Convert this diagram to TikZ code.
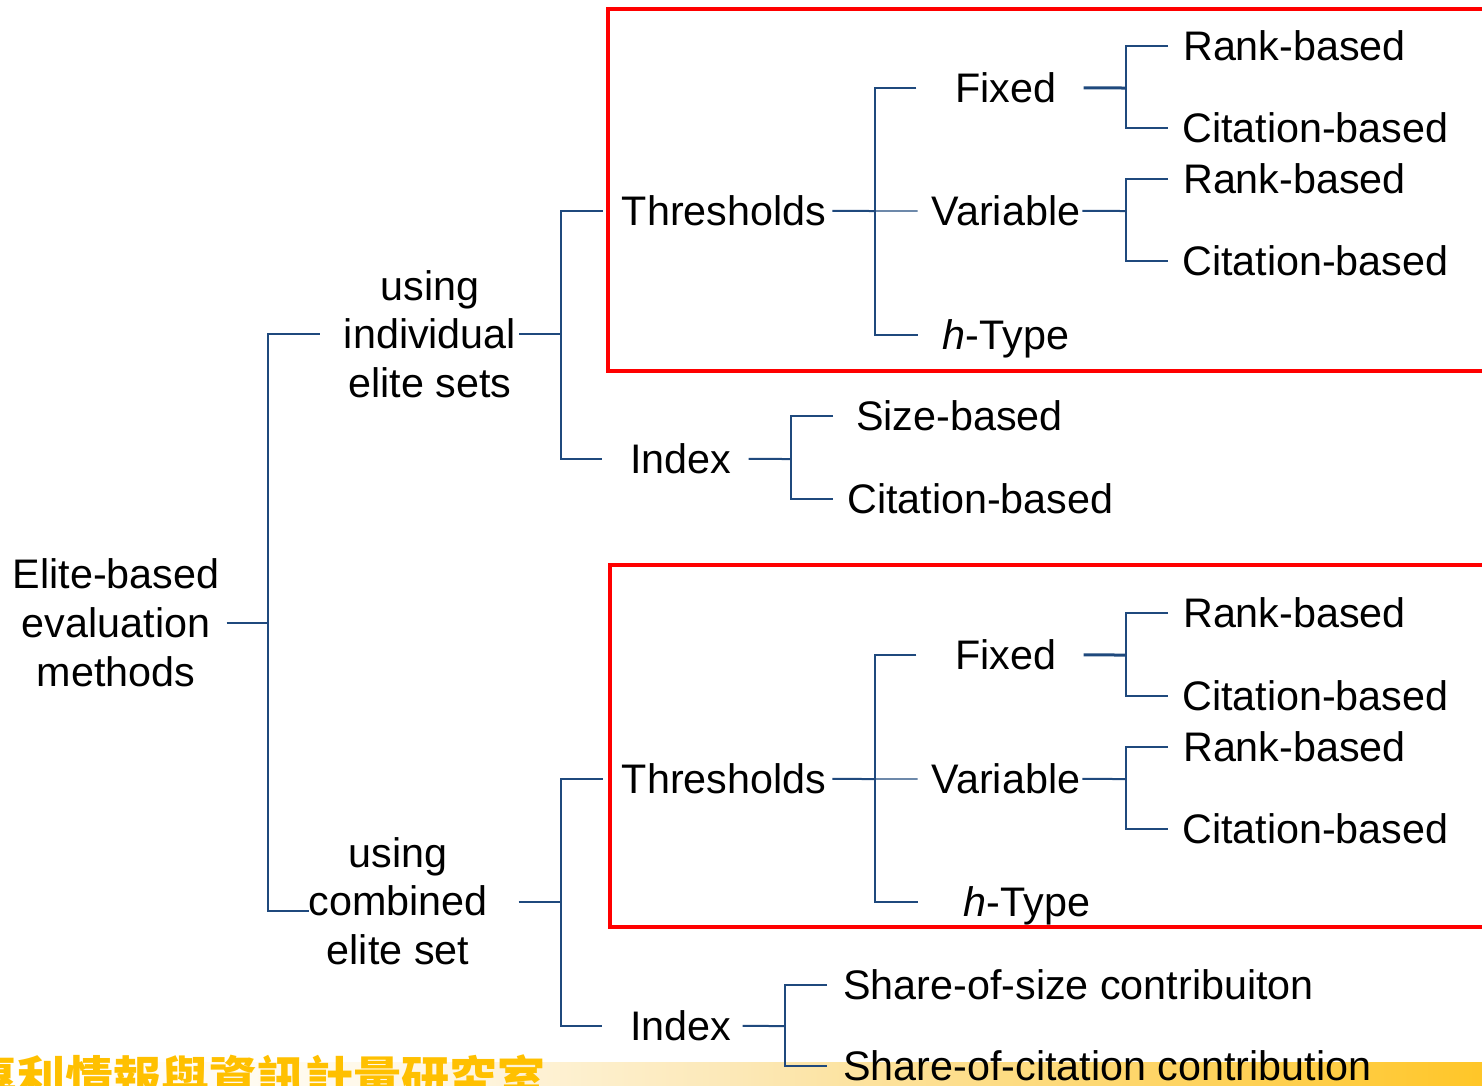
\documentclass[tikz,border=0pt]{standalone}
\usepackage{fontspec}
\setmainfont{Liberation Sans}
\newfontfamily\cjk{Noto Sans CJK TC}
\usetikzlibrary{calc}
\definecolor{linkblue}{RGB}{31,73,125}
\definecolor{boxred}{RGB}{255,0,0}
\definecolor{gold}{RGB}{255,192,0}
\definecolor{bandA}{RGB}{255,248,232}
\definecolor{bandB}{RGB}{252,232,182}
\definecolor{bandC}{RGB}{255,198,40}
\begin{document}
\begin{tikzpicture}[x=1pt,y=-1pt,
  lbl/.style={font=\fontsize{41.3}{48.7}\selectfont, inner sep=0pt, text height=29.5pt, text depth=0pt, anchor=base},
  lblw/.style={lbl, anchor=base west},
  mlbl/.style={font=\fontsize{41.3}{48.7}\selectfont, inner sep=0pt, anchor=base},
  link/.style={draw=linkblue, line width=1.3pt},
  stub/.style={draw=linkblue, line width=2pt},
  thick stub/.style={draw=linkblue, line width=3pt},
  redbox/.style={draw=boxred, line width=4pt}]
\useasboundingbox (0,0) rectangle (1482,1085);
\clip (0,0) rectangle (1482,1085);

% footer band with lab name
\shade[left color=white, right color=bandA] (0,1062) rectangle (400,1085);
\shade[left color=bandA, right color=bandB] (400,1062) rectangle (740,1085);
\shade[left color=bandB, right color=bandC] (740,1062) rectangle (1482,1085);
\node[inner sep=0pt, anchor=base west, text=gold, font=\cjk\bfseries\fontsize{48}{48}\selectfont] (lab) at (-31,1096) {專利情報與資訊計量研究室};

% highlight frames
\draw[redbox] (608,9) rectangle (1500,371);
\draw[redbox] (610,565) rectangle (1500,927);

% root and second level
\node[mlbl] (root) at (116,588.7) {\begin{tabular}[t]{@{}c@{}}Elite-based\\evaluation\\methods\end{tabular}};
\node[mlbl] (ind) at (430,300.2) {\begin{tabular}[t]{@{}c@{}}using\\individual\\elite sets\end{tabular}};
\node[mlbl] (comb) at (398,867.2) {\begin{tabular}[t]{@{}c@{}}using\\combined\\elite set\end{tabular}};

% individual elite sets branch
\node[lbl] (thrA) at (724,225.7) {Thresholds};
\node[lbl] (fixA) at (1006,102.7) {Fixed};
\node[lbl] (varA) at (1006,225.7) {Variable};
\node[lbl] (htA) at (1006,349.7) {\textit{h}-Type};
\node[lblw] (rk1) at (1183,60.7) {Rank-based};
\node[lblw] (ct1) at (1182,142.7) {Citation-based};
\node[lblw] (rk2) at (1183,193.7) {Rank-based};
\node[lblw] (ct2) at (1182,275.7) {Citation-based};
\node[lbl] (idxA) at (681,473.7) {Index};
\node[lblw] (szA) at (856,430.7) {Size-based};
\node[lblw] (ctA) at (847,513.7) {Citation-based};

% combined elite set branch
\node[lbl] (thrB) at (724,793.7) {Thresholds};
\node[lbl] (fixB) at (1006,669.7) {Fixed};
\node[lbl] (varB) at (1006,793.7) {Variable};
\node[lbl] (htB) at (1027,916.7) {\textit{h}-Type};
\node[lblw] (rk3) at (1183,627.7) {Rank-based};
\node[lblw] (ct3) at (1182,710.7) {Citation-based};
\node[lblw] (rk4) at (1183,761.7) {Rank-based};
\node[lblw] (ct4) at (1182,843.7) {Citation-based};
\node[lbl] (idxB) at (681,1040.7) {Index};
\node[lblw] (shs) at (843,999.7) {Share-of-size contribuiton};
\node[lblw] (shc) at (843,1080.7) {Share-of-citation contribution};

% junctions
\coordinate (j0) at (268,623);
\coordinate (jI) at (561,334);
\coordinate (jC) at (561,902);
\coordinate (jCr) at (561,911);
\coordinate (jTA) at (875,211);
\coordinate (jFA) at (1126,88);
\coordinate (jVA) at (1126,211);
\coordinate (jXA) at (791,459);
\coordinate (jTB) at (875,779);
\coordinate (jFB) at (1126,655);
\coordinate (jVB) at (1126,779);
\coordinate (jXB) at (785,1026);

% root level
\draw[stub] ($(root.east |- j0)+(7,0)$) -- (j0);
\draw[link] ($(ind.west |- jI)+(-24,0)$) -| (j0) |- ($(comb.west |- jCr)+(1,0)$);

% individual sets
\draw[stub] ($(ind.east |- jI)+(3,0)$) -- (jI);
\draw[link] ($(thrA.west)+(-19,0)$) -| (jI) |- ($(idxA.west)+(-28,0)$);
\draw[stub] ($(thrA.east)+(6,0)$) -- (jTA);
\draw[link] ($(fixA.west)+(-39,0)$) -| (jTA) |- ($(htA.west)+(-25,0)$);
\draw[link] (jTA) -- ($(varA.west)+(-14,0)$);
\draw[thick stub] ($(fixA.east)+(27,0)$) -- (jFA);
\draw[link] ($(rk1.west)+(-15,0)$) -| (jFA) |- ($(ct1.west)+(-14,0)$);
\draw[stub] ($(varA.east)+(2,0)$) -- (jVA);
\draw[link] ($(rk2.west)+(-15,0)$) -| (jVA) |- ($(ct2.west)+(-14,0)$);
\draw[stub] ($(idxA.east)+(17,0)$) -- (jXA);
\draw[link] ($(szA.west)+(-23,0)$) -| (jXA) |- ($(ctA.west)+(-14,0)$);

% combined set
\draw[stub] ($(comb.east |- jC)+(31,0)$) -- (jC);
\draw[link] ($(thrB.west)+(-19,0)$) -| (jC) |- ($(idxB.west)+(-28,0)$);
\draw[stub] ($(thrB.east)+(6,0)$) -- (jTB);
\draw[link] ($(fixB.west)+(-39,0)$) -| (jTB) |- ($(htB.west)+(-46,0)$);
\draw[link] (jTB) -- ($(varB.west)+(-14,0)$);
\draw[thick stub] ($(fixB.east)+(27,0)$) -- (jFB);
\draw[link] ($(rk3.west)+(-15,0)$) -| (jFB) |- ($(ct3.west)+(-14,0)$);
\draw[stub] ($(varB.east)+(2,0)$) -- (jVB);
\draw[link] ($(rk4.west)+(-15,0)$) -| (jVB) |- ($(ct4.west)+(-14,0)$);
\draw[stub] ($(idxB.east)+(11,0)$) -- (jXB);
\draw[link] ($(shs.west)+(-16,0)$) -| (jXB) |- ($(shc.west)+(-16,0)$);
\end{tikzpicture}
\end{document}
